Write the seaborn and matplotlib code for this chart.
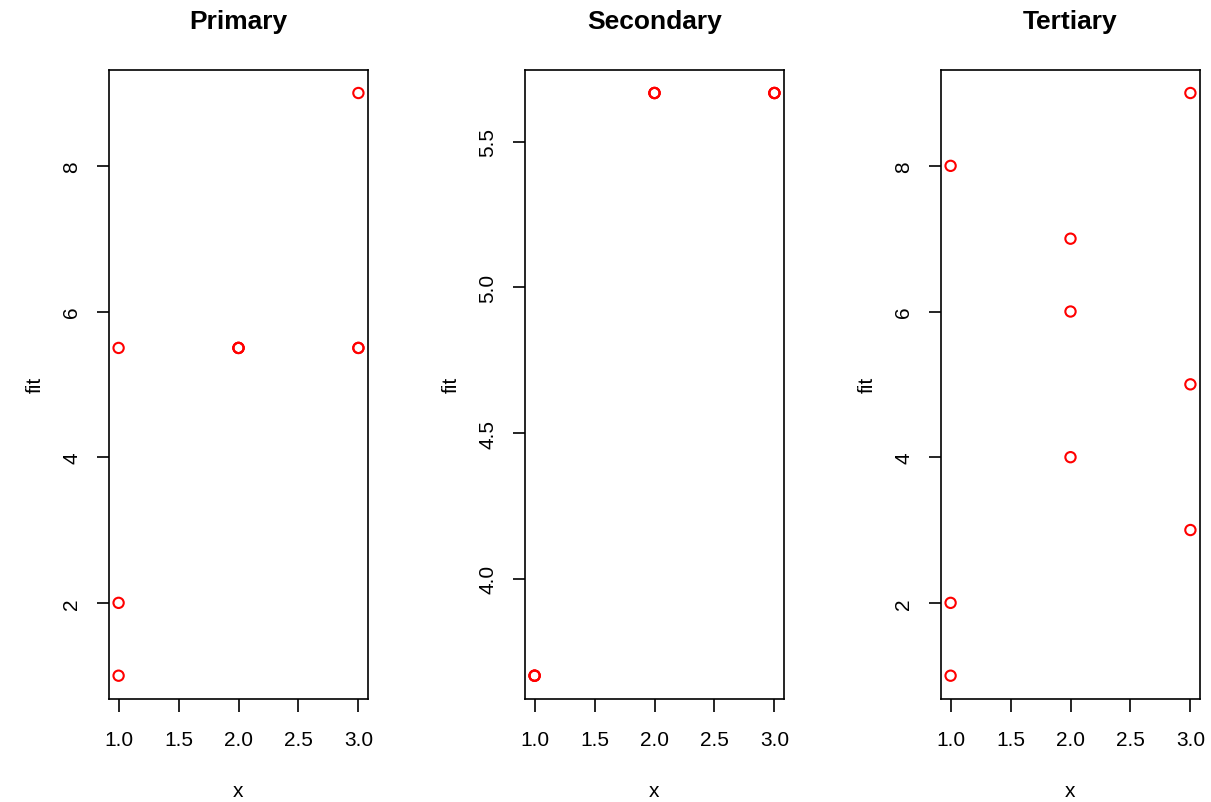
import numpy as np
import pandas as pd
import matplotlib
matplotlib.use("Agg")
import matplotlib.pyplot as plt
import seaborn as sns

# data
x = [1, 1, 1, 2, 2, 2, 3, 3, 3]
primary = [1, 2, 5.5, 5.5, 5.5, 5.5, 5.5, 5.5, 9]
secondary = [3.667, 3.667, 3.667, 5.667, 5.667, 5.667, 5.667, 5.667, 5.667]
tertiary = [1, 2, 8, 4, 6, 7, 3, 5, 9]
titles = ["Primary", "Secondary", "Tertiary"]
yticks = [[2, 4, 6, 8], [4.0, 4.5, 5.0, 5.5], [2, 4, 6, 8]]
ytick_fmt = ["{:.0f}", "{:.1f}", "{:.0f}"]
xticks = [1.0, 1.5, 2.0, 2.5, 3.0]

sns.set_style("ticks")
plt.rcParams['font.family'] = ['Liberation Sans', 'DejaVu Sans']
plt.rcParams.update({"text.color": "black", "axes.labelcolor": "black",
                     "xtick.color": "black", "ytick.color": "black"})

fig = plt.figure(figsize=(12.11, 8.03), dpi=100)
lefts = [109 / 1211, 525 / 1211, 941 / 1211]
w = 259 / 1211
b = (803 - 700) / 803
h = (700 - 70.7) / 803

for i, (fit, ttl) in enumerate(zip([primary, secondary, tertiary], titles)):
    ax = fig.add_axes([lefts[i], b, w, h])
    df = pd.DataFrame({"x": x, "fit": fit})
    sns.scatterplot(data=df, x="x", y="fit", ax=ax, s=55, marker="o",
                    facecolors="none", edgecolors="red", linewidth=1.5)
    lo, hi = min(fit), max(fit)
    pad = (hi - lo) * 0.04
    ax.set_ylim(lo - pad, hi + pad)
    ax.set_xlim(1 - 0.08, 3 + 0.08)
    ax.set_xticks(xticks)
    ax.set_xticklabels(["{:.1f}".format(v) for v in xticks], fontsize=15)
    ax.set_yticks(yticks[i])
    ax.set_yticklabels([ytick_fmt[i].format(v) for v in yticks[i]],
                       fontsize=15, rotation=90, va="center")
    ax.tick_params(axis="both", direction="out", length=9, width=1.2, color="black")
    ax.tick_params(axis="x", pad=13)
    ax.tick_params(axis="y", pad=11)
    for sp in ax.spines.values():
        sp.set_visible(True)
        sp.set_color("black")
        sp.set_linewidth(1.2)
    ax.set_xlabel("x", fontsize=15, va="center")
    ax.set_ylabel("fit", fontsize=15, va="center")
    ax.xaxis.set_label_coords(0.5, -0.146)
    ax.yaxis.set_label_coords(-0.286, 0.5)
    ax.set_title(ttl, fontsize=19, fontweight="bold", y=1.066, pad=0)

plt.savefig("out.png", dpi=100)
